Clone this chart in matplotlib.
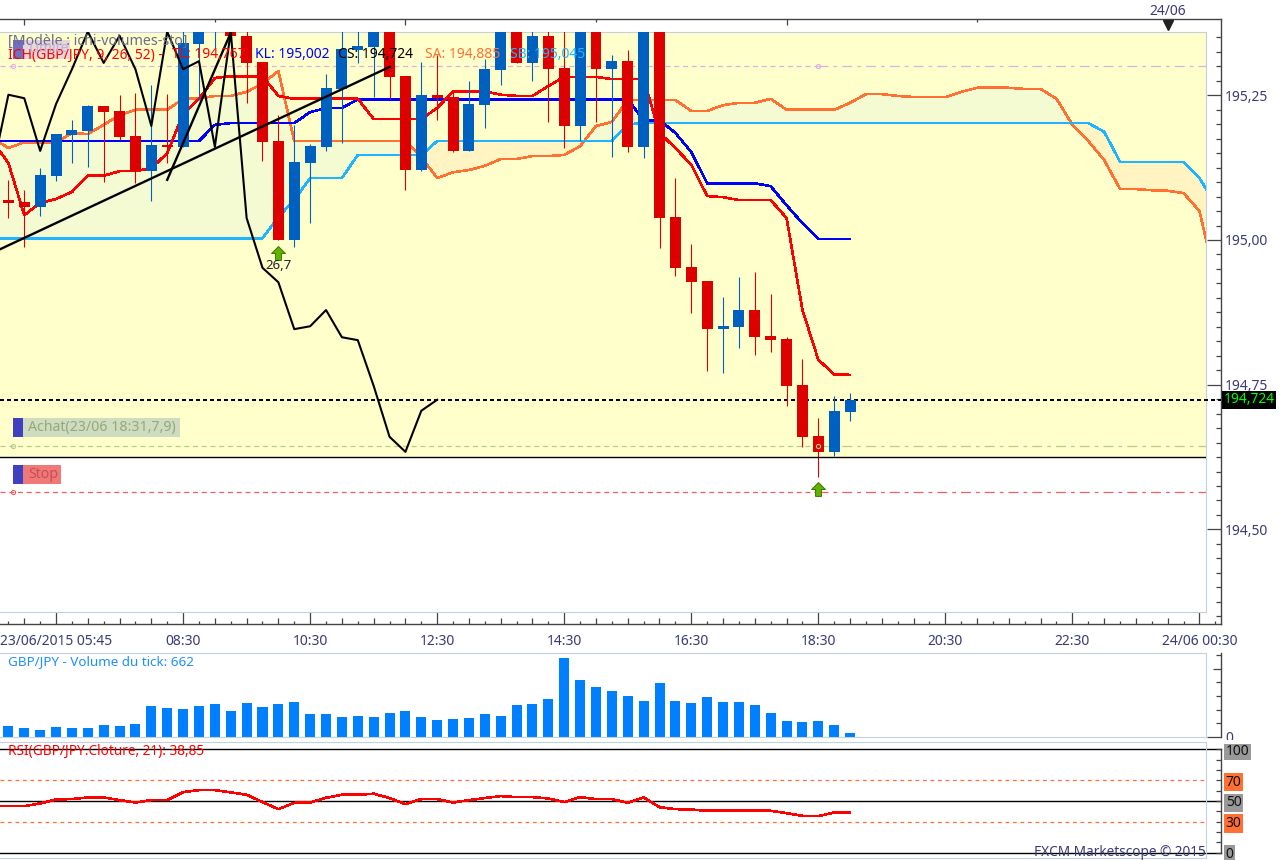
import numpy as np
import matplotlib
matplotlib.use('Agg')
import matplotlib.pyplot as plt
from matplotlib.path import Path
from matplotlib.patches import Rectangle
from matplotlib.transforms import Affine2D

plt.rcParams['font.family'] = 'Noto Sans'
plt.rcParams['font.size'] = 10

# candles, 15 minute bars (first one 05:45), values above 195,36 are off the chart
opens = [195.069,195.066,195.057,195.111,195.181,195.188,195.232,195.223,195.180,195.119,
         195.164,195.161,195.339,195.365,195.380,195.353,195.308,195.171,195.000,195.133,
         195.161,195.261,195.328,195.333,195.375,195.283,195.121,195.251,195.247,195.154,
         195.233,195.294,195.380,195.306,195.353,195.297,195.197,195.375,195.295,195.309,
         195.161,195.375,195.040,194.953,194.929,194.846,194.850,194.879,194.834,194.829,
         194.749,194.661,194.634,194.703]
highs = [195.104,195.086,195.124,195.183,195.207,195.233,195.232,195.251,195.254,195.268,
         195.252,195.365,195.390,195.420,195.410,195.370,195.308,195.216,195.199,195.166,
         195.287,195.370,195.370,195.390,195.390,195.283,195.308,195.320,195.256,195.275,
         195.313,195.390,195.400,195.380,195.380,195.380,195.390,195.390,195.320,195.328,
         195.390,195.390,195.107,194.993,194.929,194.902,194.936,194.945,194.907,194.832,
         194.794,194.692,194.730,194.736]
lows = [195.038,194.988,195.041,195.102,195.133,195.126,195.100,195.173,195.098,195.067,
        195.133,195.161,195.242,195.332,195.345,195.237,195.137,195.000,194.988,195.029,
        195.154,195.168,195.306,195.247,195.244,195.086,195.119,195.207,195.152,195.154,
        195.194,195.268,195.306,195.275,195.204,195.159,195.171,195.204,195.143,195.152,
        195.142,194.986,194.938,194.874,194.774,194.770,194.813,194.801,194.806,194.713,
        194.642,194.590,194.627,194.687]
closes = [195.064,195.057,195.112,195.183,195.190,195.232,195.221,195.178,195.119,195.164,
          195.161,195.340,195.375,195.400,195.353,195.306,195.169,195.000,195.135,195.162,
          195.263,195.330,195.335,195.370,195.282,195.121,195.251,195.245,195.154,195.235,
          195.295,195.360,195.306,195.353,195.295,195.197,195.360,195.295,195.309,195.161,
          195.360,195.038,194.952,194.927,194.846,194.851,194.879,194.832,194.827,194.748,
          194.660,194.634,194.705,194.724]

# ichimoku lines, they start one bar left of the first candle
tenkan = [195.171,195.133,195.043,195.064,195.071,195.083,195.111,195.111,195.119,195.119,
          195.124,195.150,195.218,195.244,195.280,195.283,195.283,195.283,195.249,195.244,
          195.244,195.244,195.244,195.244,195.209,195.209,195.209,195.209,195.228,195.257,
          195.257,195.257,195.251,195.249,195.249,195.266,195.282,195.282,195.282,195.278,
          195.278,195.278,195.185,195.159,195.130,195.076,195.074,195.069,195.069,195.069,
          195.038,194.879,194.793,194.768,194.767]
kijun = [195.171,195.171,195.171,195.171,195.171,195.171,195.171,195.171,195.171,195.171,
         195.171,195.171,195.171,195.171,195.199,195.202,195.202,195.202,195.202,195.202,
         195.221,195.228,195.228,195.243,195.243,195.243,195.243,195.243,195.243,195.243,
         195.243,195.243,195.243,195.243,195.243,195.243,195.243,195.243,195.243,195.243,
         195.243,195.207,195.207,195.185,195.152,195.098,195.098,195.098,195.098,195.093,
         195.060,195.029,195.002,195.002,195.002]
senkou_a = [195.176,195.159,195.169,195.168,195.168,195.185,195.183,195.199,195.216,195.225,
            195.225,195.225,195.244,195.244,195.249,195.249,195.256,195.270,195.292,195.171,
            195.171,195.171,195.171,195.171,195.171,195.171,195.171,195.143,195.107,195.117,
            195.121,195.128,195.140,195.140,195.145,195.145,195.147,195.162,195.197,195.204,
            195.242,195.242,195.242,195.242,195.223,195.223,195.233,195.237,195.237,195.244,
            195.225,195.225,195.225,195.225,195.237,195.252,195.252,195.249,195.247,195.247,
            195.247,195.256,195.263,195.263,195.263,195.261,195.261,195.244,195.199,195.171,
            195.138,195.088,195.088,195.086,195.085,195.081,195.050,194.931]
senkou_b = [195.003,195.003,195.003,195.003,195.003,195.003,195.003,195.003,195.003,195.003,
            195.003,195.003,195.003,195.003,195.003,195.003,195.003,195.003,195.040,195.069,
            195.107,195.107,195.107,195.147,195.147,195.147,195.147,195.147,195.171,195.171,
            195.171,195.171,195.171,195.171,195.171,195.171,195.171,195.171,195.171,195.171,
            195.200,195.202,195.202,195.202,195.202,195.202,195.202,195.202,195.202,195.202,
            195.202,195.202,195.202,195.202,195.202,195.202,195.202,195.202,195.202,195.202,
            195.202,195.202,195.202,195.202,195.202,195.202,195.202,195.202,195.202,195.202,
            195.187,195.135,195.135,195.135,195.135,195.135,195.107,195.062]

# hand drawn trend lines (bar, price)
trend1_x = [-0.53, 24]
trend1_y = [194.984, 195.299]
trend2_x = [10, 14]
trend2_y = [195.104, 195.358]

# order levels
last_price = 194.724
entry_price = 194.644
stop_price = 194.565
limit_price = 195.300
white_below = 194.6245

# signal arrows (bar, price)
arrow_x = [17, 51]
arrow_y = [194.978, 194.570]

volumes = [1815,1485,1155,1650,1485,1485,1980,1815,2145,5115,4785,4620,5115,5445,4290,5610,4950,5445,
           5775,3795,3795,3300,3465,3300,3960,4290,3300,2805,2970,3135,3795,3465,5280,5445,6270,13035,
           9405,8250,7590,6765,5940,8910,5940,5610,6600,5775,5775,5280,3960,2640,2475,2640,1980,662]

rsi = [45.0,45.0,45.0,47.6,51.5,51.8,53.4,53.4,50.8,48.5,50.8,
       50.8,58.6,60.5,60.5,58.3,56.0,48.9,42.1,48.2,48.5,
       53.1,56.0,56.0,57.0,52.8,46.9,51.8,51.8,48.5,50.8,
       52.8,54.7,53.7,53.7,52.4,48.9,53.7,51.8,51.8,48.2,
       53.4,44.0,42.1,41.7,40.5,40.5,40.5,40.5,40.5,38.2,
       35.6,35.3,38.85,38.85]

time_labels = ['23/06/2015 05:45', '08:30', '10:30', '12:30', '14:30', '16:30', '18:30',
               '20:30', '22:30', '24/06 00:30']
price_labels = ['194,50', '194,75', '195,00', '195,25']

W, H = 1279, 860
RED, BLUE = '#DD0000', '#0060C0'
FRAME = '#C3D0E0'
AXIS = '#444444'
NAVY = '#3A3A78'
ORANGE = '#FF7032'
SKY = '#1EB4FF'
LINE_W = 1.15

fig = plt.figure(figsize=(W / 100, H / 100), dpi=100, facecolor='white')
pix = Affine2D().scale(1 / W, -1 / H).translate(0, 1) + fig.transFigure


def rect(x0, y0, x1, y1):
    return [x0 / W, 1 - y1 / H, (x1 - x0) / W, (y1 - y0) / H]


def put(x, y, s, color, **kw):
    return fig.text(x / W, 1 - y / H, s, color=color, va='center', zorder=12, **kw)


def box(x0, y0, x1, y1, color, alpha=1.0):
    fig.add_artist(Rectangle((x0, y0), x1 - x0, y1 - y0, transform=pix, facecolor=color,
                             edgecolor='none', alpha=alpha, zorder=11))


# bar i sits at pixel 8.4 + 15.88 * i
x_left = -0.529
x_frame = 75.41
x_outer = 76.36
# price -> pixel: 240 - (p - 195) * 578.8
y_top, y_bottom = 195.3594, 194.3573

frame = fig.add_axes(rect(0, 19, 1221, 624), zorder=0)
frame.set_xlim(x_left, x_outer)
frame.set_ylim(194.3366, 195.3818)
frame.spines['left'].set_visible(False)
for s in ['top', 'right', 'bottom']:
    frame.spines[s].set_color(AXIS)
    frame.spines[s].set_linewidth(1.0)
frame.yaxis.tick_right()
frame.set_yticks([194.5, 194.75, 195.0, 195.25], price_labels)
frame.set_yticks(np.arange(194.35, 195.36, 0.025), minor=True)
frame.tick_params(axis='y', which='major', direction='in', length=10, width=0.9, color=AXIS,
                  labelcolor=NAVY, pad=3)
frame.tick_params(axis='y', which='minor', direction='in', length=3.6, width=0.9, color=AXIS)
frame.set_xticks(np.arange(3, 76, 8), time_labels)
frame.set_xticks(np.arange(1, 77, 2), minor=True)
frame.tick_params(axis='x', which='major', direction='in', length=8.6, width=0.9, color=AXIS,
                  labelcolor=NAVY, pad=7)
frame.tick_params(axis='x', which='minor', direction='in', length=4.3, width=0.9, color=AXIS)
short_x = frame.secondary_xaxis('bottom')
short_x.set_xticks(np.arange(0, 77, 2))
short_x.tick_params(direction='in', length=2.2, width=0.9, color=AXIS, labelbottom=False)
short_x.spines['bottom'].set_visible(False)
top_x = frame.secondary_xaxis('top')
top_x.set_xticks([1, 25, 49, 73], [])
top_x.set_xticks([13, 37, 61], minor=True)
top_x.tick_params(which='major', direction='in', length=4.3, width=0.9, color=AXIS)
top_x.tick_params(which='minor', direction='in', length=2.2, width=0.9, color=AXIS)
top_x.spines['top'].set_visible(False)

ax = fig.add_axes(rect(0, 32, 1206, 612), zorder=2)
ax.set_xlim(x_left, x_frame)
ax.set_ylim(y_bottom, y_top)
ax.set_xticks([])
ax.set_yticks([])
ax.spines['left'].set_visible(False)
for s in ['top', 'right', 'bottom']:
    ax.spines[s].set_color(FRAME)
ax.axhspan(white_below, y_top, color='#FFFFCC', lw=0, zorder=0)

line_x = np.arange(-1, 54)
cloud_x = np.arange(-1, 77)
sa = np.array(senkou_a)
sb = np.array(senkou_b)
ax.fill_between(cloud_x, sa, sb, where=sa >= sb, interpolate=True, color='#F4FBD2', lw=0, zorder=1)
ax.fill_between(cloud_x, sa, sb, where=sa <= sb, interpolate=True, color='#FFF4C2', lw=0, zorder=1)
ax.plot(cloud_x, sa, color=ORANGE, lw=LINE_W, zorder=3, antialiased=False)
ax.plot(cloud_x, sb, color=SKY, lw=LINE_W, zorder=3, antialiased=False)
ax.plot(line_x, kijun, color='#0000FF', lw=LINE_W, zorder=3, antialiased=False)
ax.plot(line_x, tenkan, color='#FF0000', lw=LINE_W, zorder=3, antialiased=False)

# dashes change at the bar where the order was placed
for price, col in [(entry_price, '#B8CC8C'), (stop_price, '#F06060'), (limit_price, '#DDB0E8')]:
    ax.plot([x_left, 51], [price, price], color=col, lw=0.9, ls=(0, (4, 3)), zorder=2)
    ax.plot([51, x_frame], [price, price], color=col, lw=0.9, ls=(0, (8, 4, 3, 4)), zorder=2)
    ax.plot([51, 0.3], [price, price], ls='none', marker='o', ms=3, mfc='none', mec=col, mew=0.8, zorder=6)

bars = np.arange(len(opens))
o = np.array(opens)
c = np.array(closes)
colors = [BLUE if c[i] >= o[i] else RED for i in bars]
ax.vlines(bars, lows, highs, color=colors, lw=0.8, zorder=4)
ax.bar(bars, np.abs(c - o), bottom=np.minimum(o, c), width=0.69, color=colors, lw=0, zorder=4,
       antialiased=False)

# lagging span is the close moved 26 bars back
ax.plot(bars[25:] - 26, closes[25:], color='black', lw=1.5, zorder=5)
ax.plot(trend1_x, trend1_y, color='black', lw=1.7, zorder=5)
ax.plot(trend2_x, trend2_y, color='black', lw=1.7, zorder=5)

ax.plot([x_left, x_outer], [last_price, last_price], color='black', lw=1.44, ls=(0, (1.5, 1.5)),
        zorder=3, clip_on=False, antialiased=False)
ax.plot([x_left, x_frame], [white_below, white_below], color='black', lw=1.0, zorder=5)

arrow = Path([(-0.42, -1), (0.42, -1), (0.42, 0), (1, 0), (0, 1), (-1, 0), (-0.42, 0), (-0.42, -1)], closed=True)
ax.plot(arrow_x, arrow_y, ls='none', marker=arrow, ms=10, mfc='#62B000', mec='#3C7A00', mew=0.7, zorder=7)
ax.text(17, 194.978 - 0.022, '26,7', ha='center', va='center', fontsize=9.5, color='#222222', zorder=7)

frame.plot([73], [195.3715], ls='none', marker='v', ms=7, color='#222222', clip_on=False, zorder=5)
frame.text(73, 195.3956, '24/06', color=NAVY, ha='center', va='center', clip_on=False)
frame.text(76.52, last_price, '194,724', color='#00FF00', ha='left', va='center', zorder=6, clip_on=False,
           bbox=dict(boxstyle='square,pad=0.12', fc='black', ec='none'))

# volume panel
vol = fig.add_axes(rect(0, 653, 1206, 737), zorder=2)
vol.set_xlim(x_left, x_frame)
vol.set_ylim(0, 13860)
vol.set_xticks([])
vol.set_yticks([])
vol.spines['left'].set_visible(False)
for s in ['top', 'right', 'bottom']:
    vol.spines[s].set_color(FRAME)
vol.bar(bars, volumes, width=0.63, color='#0080FF', lw=0, antialiased=False)

vol_side = fig.add_axes(rect(1206, 653, 1221, 737), zorder=1)
vol_side.set_xticks([])
vol_side.set_ylim(0, 13860)
vol_side.patch.set_visible(False)
for s in ['top', 'left', 'bottom']:
    vol_side.spines[s].set_visible(False)
vol_side.spines['right'].set_color(AXIS)
vol_side.spines['right'].set_linewidth(1.0)
vol_side.yaxis.tick_right()
vol_side.set_yticks([0], ['0'])
vol_side.set_yticks([2250, 4500, 6750, 9000, 13500], minor=True)
vol_side.tick_params(axis='y', which='major', direction='in', length=10, width=0.9, color=AXIS,
                     labelcolor=NAVY, pad=3)
vol_side.tick_params(axis='y', which='minor', direction='in', length=3.6, width=0.9, color=AXIS)
long_tick = vol_side.secondary_yaxis('right')
long_tick.set_yticks([11250], [])
long_tick.tick_params(direction='in', length=5.8, width=0.9, color=AXIS)
long_tick.spines['right'].set_visible(False)

# covers the lower half of the volume "0"
box(1222, 740, 1279, 744, 'white')

# rsi panel
rs = fig.add_axes(rect(0, 742, 1206, 858), zorder=2)
rs.set_xlim(x_left, x_frame)
rs.set_ylim(-5.24, 107.1)
rs.set_xticks([])
rs.set_yticks([])
rs.spines['left'].set_visible(False)
for s in ['top', 'right', 'bottom']:
    rs.spines[s].set_color(FRAME)
for lev in [100, 50, 0]:
    rs.plot([x_left, x_outer], [lev, lev], color='black', lw=1.0, clip_on=False, zorder=2)
for lev in [70, 30]:
    rs.plot([x_left, x_frame], [lev, lev], color=ORANGE, lw=0.9, ls=(0, (3, 3)), zorder=2)
rs.plot(line_x, rsi, color='#FF0000', lw=LINE_W, zorder=3, antialiased=False)

rs_side = fig.add_axes(rect(1206, 742, 1221, 858), zorder=3)
rs_side.set_xticks([])
rs_side.set_ylim(-5.24, 107.1)
rs_side.patch.set_visible(False)
for s in ['top', 'left', 'bottom']:
    rs_side.spines[s].set_visible(False)
rs_side.spines['right'].set_color(AXIS)
rs_side.spines['right'].set_linewidth(1.0)
rs_side.spines['right'].set_bounds(0, 100)
rs_side.yaxis.tick_right()
rs_side.set_yticks([0, 30, 50, 70, 100], ['0', '30', '50', '70', '100'])
rs_side.set_yticks([10, 20, 40, 60, 80, 90], minor=True)
rs_side.tick_params(axis='y', which='both', direction='in', length=3.6, width=0.9, color=AXIS,
                    labelcolor='#111111', pad=3.5)
for lab, col in zip(rs_side.get_yticklabels(), ['#999999', ORANGE, '#999999', ORANGE, '#999999']):
    lab.set_bbox(dict(boxstyle='square,pad=0.12', fc=col, ec='none'))

# headers
put(8, 41, '[Modèle : ichi-volumes-sto]', '#6A6A8A', fontsize=10.2)
put(8, 55, 'ICH(GBP/JPY, 9, 26, 52) - ', '#FF0000')
put(172, 55, 'TL: 194,767', '#FF0000')
put(255, 55, 'KL: 195,002', '#0000FF')
put(338, 55, 'CS: 194,724', 'black')
put(425, 55, 'SA: 194,885', ORANGE)
put(510, 55, 'SB: 195,045', SKY)
put(8, 662, 'GBP/JPY - Volume du tick: 662', '#1E8FFF', fontsize=9.7)
put(8, 751, 'RSI(GBP/JPY.Cloture, 21): 38,85', '#FF0000', fontsize=9.8)
put(1206, 852, 'FXCM Marketscope © 2015', NAVY, ha='right', fontsize=9.8)

# order tags
box(13, 40, 23, 59, '#4040C0', 0.75)
box(23, 40, 70, 59, '#C8A8E8', 0.45)
put(29, 49, 'Limite', '#C0B0D8')
box(13, 418, 23, 437, '#4040C0')
box(23, 418, 180, 437, '#D0DCC0')
put(28, 428, 'Achat(23/06 18:31,7,9)', '#94A878', fontsize=10.2)
box(13, 465, 23, 484, '#4040C0')
box(23, 465, 61, 484, '#F07878')
put(28, 475, 'Stop', '#C85050', fontsize=10.2)

fig.savefig('out.png', dpi=100)
